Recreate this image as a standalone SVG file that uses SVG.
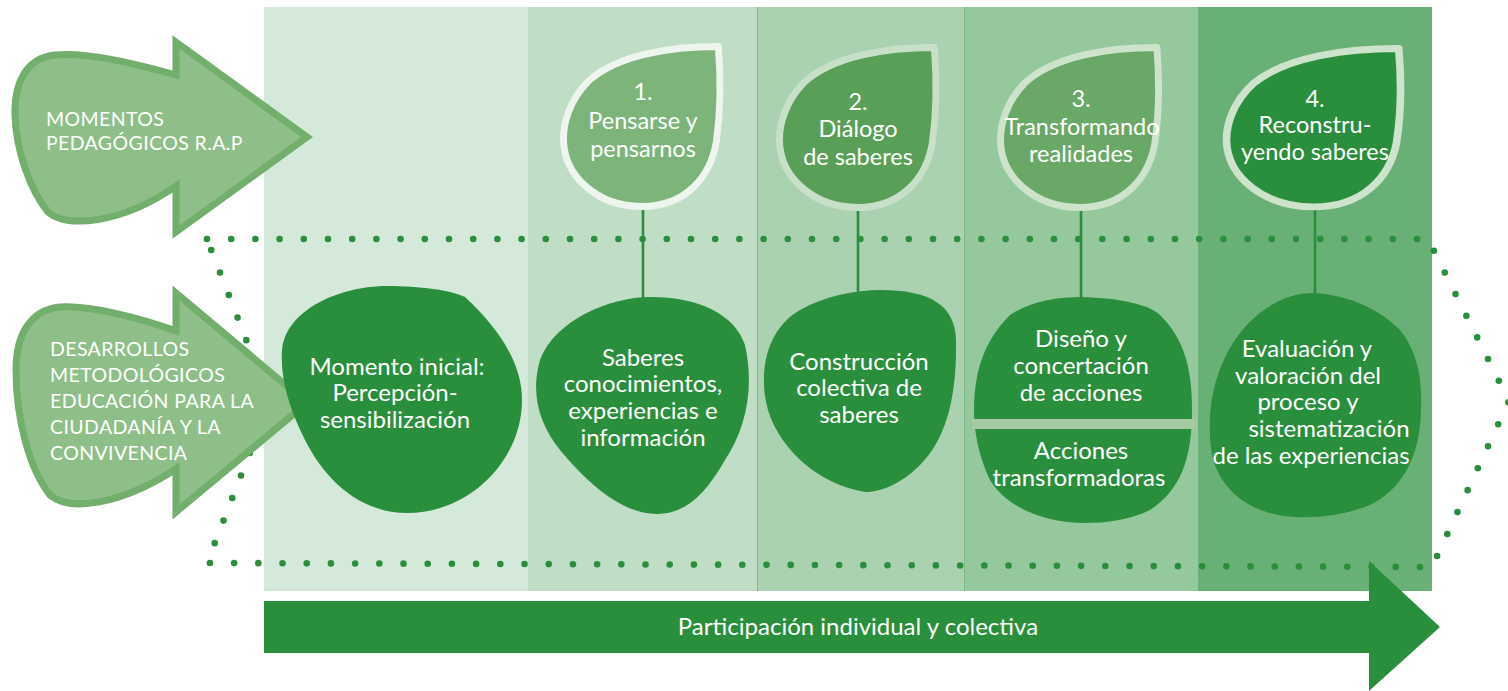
<svg xmlns="http://www.w3.org/2000/svg" width="1508" height="691" viewBox="0 0 1508 691">
  <style>
    .t { font-family: Lato, "Open Sans", "Liberation Sans", sans-serif; fill: #ffffff; text-anchor: middle; }
    .tl { font-family: Lato, "Open Sans", "Liberation Sans", sans-serif; fill: #ffffff; font-size: 19.5px; letter-spacing: 0.4px; }
    .bt { font-size: 24px; }
    .dt { font-size: 23.5px; }
    .blob { fill: #2a8f3c; }
    .drop { stroke-width: 7; stroke-linejoin: round; }
    .conn { stroke: #2a8f3c; stroke-width: 2.6; fill: none; }
    .bigarrow { fill: #8fbf88; stroke: #72ae6c; stroke-width: 7; stroke-linejoin: miter; }
  </style>
  <defs>
    <path id="dropShape" d="M158,0 C110,0 55,8 25,35 C5,55 0,78 0,92 C0,130 35,160 80,160 C125,160 150,130 156,95 C161,60 160,25 158,0 Z"/>
  </defs>

  <!-- background columns -->
  <g id="columns">
    <rect x="264" y="7" width="264" height="584" fill="#d5e9da"/>
    <rect x="528" y="7" width="229" height="584" fill="#c0ddc6"/>
    <rect x="757" y="7" width="207" height="584" fill="#aad2b1"/>
    <rect x="964" y="7" width="234" height="584" fill="#95c89d"/>
    <rect x="1198" y="7" width="234" height="584" fill="#68b075"/>
    <line x1="757.5" y1="7" x2="757.5" y2="591" stroke="#7cba85" stroke-width="1"/>
    <line x1="964.5" y1="7" x2="964.5" y2="591" stroke="#7cba85" stroke-width="1"/>
  </g>

  <!-- dotted outline -->
  <g id="dotted-outline">
    <path d="M207,239 L1428,239 L1509,401 L1432,567 L207,563 L270,401 Z" fill="none" stroke="#2a8f3c" stroke-width="6.6" stroke-linecap="round" stroke-dasharray="0 24.2"/>
  </g>

  <!-- left arrows -->
  <g id="arrow-momentos">
    <path class="bigarrow" d="M176,75 C140,65 90,52 55,55 C25,58 14,85 15,115 C16,150 30,190 48,212 C65,228 120,225 176,186 L176,232 L307,137 L176,42 Z"/>
    <text class="tl" x="46" y="126">MOMENTOS</text>
    <text class="tl" x="46" y="150">PEDAGÓGICOS R.A.P</text>
  </g>
  <g id="arrow-desarrollos">
    <path class="bigarrow" d="M176,331 C140,318 90,305 60,307 C30,310 16,335 16,370 C16,420 30,470 50,495 C70,512 120,505 176,469 L176,512 L307,403 L176,293 Z"/>
    <text class="tl" x="50" y="356">DESARROLLOS</text>
    <text class="tl" x="50" y="382">METODOLÓGICOS</text>
    <text class="tl" x="50" y="408">EDUCACIÓN PARA LA</text>
    <text class="tl" x="50" y="434">CIUDADANÍA Y LA</text>
    <text class="tl" x="50" y="460">CONVIVENCIA</text>
  </g>

  <!-- connectors -->
  <g id="connectors">
    <line class="conn" x1="643" y1="181" x2="643" y2="300"/>
    <line class="conn" x1="858" y1="182" x2="858" y2="293"/>
    <line class="conn" x1="1081" y1="182" x2="1081" y2="298"/>
    <line class="conn" x1="1315" y1="208" x2="1315" y2="296"/>
    <circle cx="643" cy="181" r="5" fill="#2a8f3c"/>
    <circle cx="858" cy="182" r="5" fill="#2a8f3c"/>
    <circle cx="1081" cy="182" r="5" fill="#2a8f3c"/>
  </g>

  <!-- drops (momentos) -->
  <g id="drop1">
    <use href="#dropShape" class="drop" fill="#7db47a" stroke="#eef5ee" transform="translate(563.5,46.5) scale(0.98,1)"/>
    <text class="t dt" x="643" y="100">1.</text>
    <text class="t dt" x="643" y="129">Pensarse y</text>
    <text class="t dt" x="643" y="157">pensarnos</text>
  </g>
  <g id="drop2">
    <use href="#dropShape" class="drop" fill="#5a9f57" stroke="#c8e0c8" transform="translate(779.5,47.5) scale(0.98,1)"/>
    <text class="t dt" x="858" y="110">2.</text>
    <text class="t dt" x="858" y="137">Diálogo</text>
    <text class="t dt" x="858" y="165">de saberes</text>
  </g>
  <g id="drop3">
    <use href="#dropShape" class="drop" fill="#6aa867" stroke="#cde3cb" transform="translate(1000.5,47.5) scale(0.99,1)"/>
    <text class="t dt" x="1081" y="107">3.</text>
    <text class="t dt" x="1082" y="135">Transformando</text>
    <text class="t dt" x="1081" y="162">realidades</text>
  </g>
  <g id="drop4">
    <use href="#dropShape" class="drop" fill="#2a8f3c" stroke="#cde3cb" transform="translate(1226.5,48.5) scale(1.09,0.99)"/>
    <text class="t dt" x="1315" y="107">4.</text>
    <text class="t dt" x="1315" y="133">Reconstru-</text>
    <text class="t dt" x="1315" y="160">yendo saberes</text>
  </g>

  <!-- blobs (desarrollos) -->
  <g id="blob0">
    <path class="blob" d="M387,286 C420,286 450,290 465,297 C495,325 522,360 522,400 C522,460 470,513 407,513 C360,513 325,480 305,440 C290,410 280,380 282,350 C285,310 340,286 387,286 Z"/>
    <text class="t bt" x="397" y="375">Momento inicial:</text>
    <text class="t bt" x="395" y="401">Percepción-</text>
    <text class="t bt" x="395" y="428">sensibilización</text>
  </g>
  <g id="blob1">
    <path class="blob" d="M650,297 C700,297 735,315 745,345 C755,390 745,430 725,460 C705,495 685,514 657,514 C620,514 585,480 560,450 C540,425 530,395 540,360 C555,320 610,297 650,297 Z"/>
    <text class="t bt" x="643" y="366">Saberes</text>
    <text class="t bt" x="643" y="392">conocimientos,</text>
    <text class="t bt" x="643" y="419">experiencias e</text>
    <text class="t bt" x="643" y="446">información</text>
  </g>
  <g id="blob2">
    <path class="blob" d="M880,290 C930,290 955,305 956,340 C957,400 945,440 920,465 C900,485 880,492 865,492 C820,485 780,450 768,410 C758,375 765,330 800,310 C825,296 855,290 880,290 Z"/>
    <text class="t bt" x="859" y="370">Construcción</text>
    <text class="t bt" x="859" y="396">colectiva de</text>
    <text class="t bt" x="859" y="423">saberes</text>
  </g>
  <g id="blob3">
    <path class="blob" d="M1082,297 C1120,298 1150,305 1160,315 C1185,340 1192,370 1192,410 C1192,460 1180,490 1150,510 C1130,520 1105,523 1086,523 C1040,523 1005,505 990,480 C978,455 974,430 974,410 C974,370 985,340 1010,315 C1030,302 1055,297 1082,297 Z"/>
    <rect x="972" y="419" width="225" height="10" fill="#a6caa2"/>
    <text class="t bt" x="1081" y="347">Diseño y</text>
    <text class="t bt" x="1081" y="374">concertación</text>
    <text class="t bt" x="1081" y="401">de acciones</text>
    <text class="t bt" x="1081" y="459">Acciones</text>
    <text class="t bt" x="1079" y="486">transformadoras</text>
  </g>
  <g id="blob4">
    <path class="blob" d="M1313,293 C1350,295 1380,310 1400,330 C1420,355 1422,385 1421,410 C1420,460 1400,490 1370,505 C1345,515 1320,518 1296,517 C1250,515 1220,490 1212,455 C1205,410 1215,370 1235,340 C1255,310 1285,293 1313,293 Z"/>
    <text class="t bt" x="1307" y="357">Evaluación y</text>
    <text class="t bt" x="1308" y="384">valoración del</text>
    <text class="t bt" x="1308" y="410">proceso y</text>
    <text class="t bt" x="1329" y="437">sistematización</text>
    <text class="t bt" x="1311" y="464">de las experiencias</text>
  </g>

  <!-- bottom arrow -->
  <g id="participacion">
    <path d="M264,601 L1369,601 L1369,561 L1440,627 L1369,691 L1369,653 L264,653 Z" fill="#2a8f3c"/>
    <text class="t" x="858" y="635" font-size="24">Participación individual y colectiva</text>
  </g>
</svg>
